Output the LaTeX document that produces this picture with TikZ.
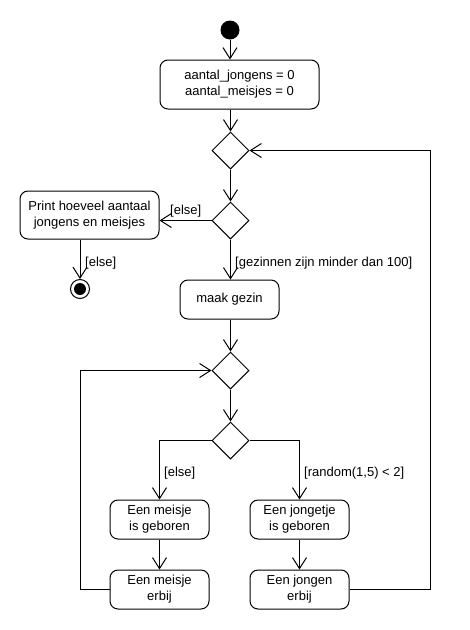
\documentclass[tikz,border=0pt]{standalone}
\usepackage{fontspec}
\setmainfont{Liberation Sans}
\usetikzlibrary{arrows.meta,shapes.geometric}
\begin{document}
\begin{tikzpicture}[x=1pt,y=-1pt,
  every node/.style={font=\fontsize{13}{16}\selectfont},
  act/.style={draw,line width=1pt,rounded corners=8pt,inner sep=0pt,align=center},
  dec/.style={draw,line width=1pt,diamond,shape aspect=1,minimum width=37pt,minimum height=37pt,inner sep=0pt},
  flow/.style={line width=1pt,-{Straight Barb[length=11pt,width=14pt,line width=1pt]}},
  lbl/.style={inner sep=0pt}]
\useasboundingbox (0,0) rectangle (470,630);
\node[circle,fill=black,minimum size=19pt,inner sep=0pt] (start) at (230,30) {};
\node[act,minimum width=159pt,minimum height=49pt] (init) at (239.5,84.5) {aantal\_jongens = 0\\aantal\_meisjes = 0};
\node[dec] (d1) at (230.5,150.5) {};
\node[dec] (d2) at (230.5,220.5) {};
\node[act,minimum width=139pt,minimum height=48pt] (print) at (89.5,215) {Print hoeveel aantaal\\jongens en meisjes};
\node[circle,draw,line width=1pt,minimum size=19pt,inner sep=0pt] (final) at (80,289) {};
\node[circle,fill=black,minimum size=12pt,inner sep=0pt] (finalin) at (80,289) {};
\node[act,minimum width=99pt,minimum height=39pt] (maak) at (229.5,299.5) {maak gezin};
\node[dec] (d3) at (230.5,370.5) {};
\node[dec] (d4) at (230.5,440.5) {};
\node[act,minimum width=99pt,minimum height=39pt] (g1) at (159.5,519.5) {Een meisje\\is geboren};
\node[act,minimum width=99pt,minimum height=39pt] (g2) at (159.5,589.5) {Een meisje\\erbij};
\node[act,minimum width=99pt,minimum height=39pt] (b1) at (299.5,519.5) {Een jongetje\\is geboren};
\node[act,minimum width=99pt,minimum height=39pt] (b2) at (299.5,589.5) {Een jongen\\erbij};
\coordinate (lx) at (80.5,370.5);
\coordinate (rx) at (430.5,150.5);
% labels
\node[lbl,anchor=west] (l1) at (170,211) {[else]};
\node[lbl,anchor=west] (l2) at (85,263) {[else]};
\node[lbl,anchor=west] (l3) at (235,263) {[gezinnen zijn minder dan 100]};
\node[lbl,anchor=west] (l4) at (164,473) {[else]};
\node[lbl,anchor=west] (l5) at (304,473) {[random(1,5) < 2]};
% connectors
\draw[flow] (start.south) -- (start.south |- init.north);
\draw[flow] (d1.north |- init.south) -- (d1.north);
\draw[flow] (d1.south) -- (d2.north);
\draw[flow] (d2.west) -- (print.east |- d2.west);
\draw[flow] (final.north |- print.south) -- (final.north);
\draw[flow] (d2.south) -- (d2.south |- maak.north);
\draw[flow] (d3.north |- maak.south) -- (d3.north);
\draw[flow] (d3.south) -- (d4.north);
\draw[flow] (d4.west) -| (g1.north);
\draw[flow] (d4.east) -| (b1.north);
\draw[flow] (g1.south) -- (g2.north);
\draw[flow] (b1.south) -- (b2.north);
\draw[flow] (g2.west) -| (lx) -- (d3.west);
\draw[flow] (b2.east) -| (rx) -- (d1.east);
\end{tikzpicture}
\end{document}
